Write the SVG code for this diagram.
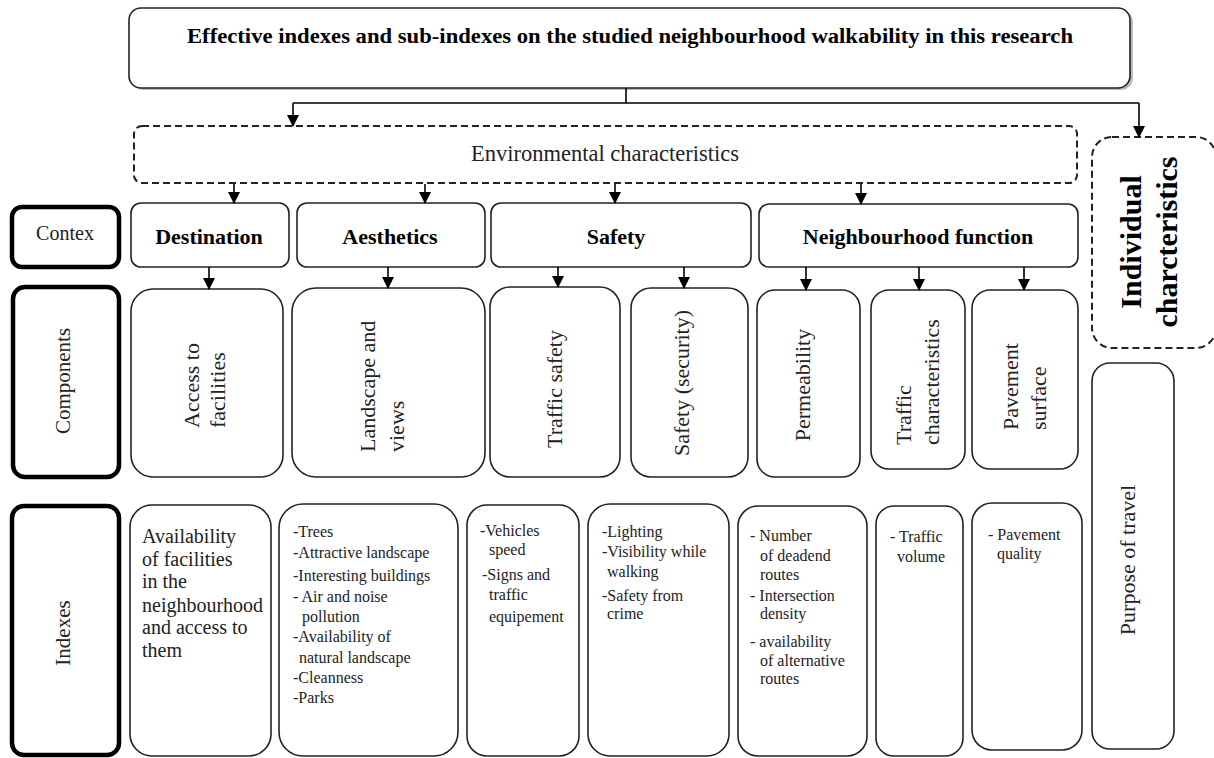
<svg xmlns="http://www.w3.org/2000/svg" width="1214" height="758" viewBox="0 0 1214 758">
<style>
.box{fill:#fff;stroke:#222;stroke-width:1.6}
.lbl{fill:#fff;stroke:#000;stroke-width:4.5}
.dash{fill:#fff;stroke:#222;stroke-width:2;stroke-dasharray:7 4}
.t{font-family:"Liberation Serif","Times New Roman",serif;fill:#222}
.b{font-weight:bold;fill:#000}
.ctx{font-size:22px;text-anchor:middle}
.rot{font-size:22px}
.idx{font-size:16px}
.con{stroke:#000;stroke-width:1.6;fill:none}
.arr{stroke:#000;stroke-width:1.6;fill:none;marker-end:url(#ah)}
</style>
<defs>
<marker id="ah" markerUnits="userSpaceOnUse" markerWidth="12" markerHeight="12" refX="11" refY="6" orient="auto">
<path d="M0,0 L12,6 L0,12 z" fill="#000"/>
</marker>
</defs>
<rect width="1214" height="758" fill="#fff"/>

<g id="title">
<rect x="132" y="10" width="1001" height="80" rx="12" fill="#bbb"/>
<rect class="box" x="129" y="8" width="1001" height="80" rx="12"/>
<text class="t b" x="630" y="43" font-size="20" text-anchor="middle" textLength="886" lengthAdjust="spacingAndGlyphs">Effective indexes and sub-indexes on the studied neighbourhood walkability in this research</text>
</g>

<g id="environmental">
<rect class="dash" x="134" y="126" width="943" height="57" rx="8"/>
<text class="t" x="605" y="161" font-size="22.5" text-anchor="middle" fill="#333">Environmental characteristics</text>
</g>

<g id="individual">
<rect class="dash" x="1092" y="137" width="124" height="211" rx="20"/>
<text class="t b" transform="translate(1141,242) rotate(-90)" font-size="30" text-anchor="middle">Individual</text>
<text class="t b" transform="translate(1177,242) rotate(-90)" font-size="30" text-anchor="middle">charcteristics</text>
</g>

<g id="purpose">
<rect class="box" x="1092" y="363" width="82" height="386" rx="18"/>
<text class="t rot" transform="translate(1135,560) rotate(-90)" text-anchor="middle">Purpose of travel</text>
</g>

<g id="label-contex">
<rect class="lbl" x="12" y="207" width="107" height="60" rx="10"/>
<text class="t" x="65" y="240" font-size="20" text-anchor="middle" fill="#333">Contex</text>
</g>
<g id="label-components">
<rect class="lbl" x="13" y="287" width="106" height="190" rx="12"/>
<text class="t" transform="translate(70,381) rotate(-90)" font-size="21" text-anchor="middle" fill="#333">Components</text>
</g>
<g id="label-indexes">
<rect class="lbl" x="12" y="506" width="107" height="249" rx="12"/>
<text class="t" transform="translate(70,633) rotate(-90)" font-size="21" text-anchor="middle" fill="#333">Indexes</text>
</g>

<g id="ctx-destination">
<rect class="box" x="131" y="203" width="158" height="64" rx="10"/>
<text class="t b ctx" x="209" y="244">Destination</text>
</g>
<g id="ctx-aesthetics">
<rect class="box" x="297" y="203" width="188" height="64" rx="10"/>
<text class="t b ctx" x="390" y="244">Aesthetics</text>
</g>
<g id="ctx-safety">
<rect class="box" x="491" y="203" width="260" height="64" rx="10"/>
<text class="t b ctx" x="616" y="244">Safety</text>
</g>
<g id="ctx-function">
<rect class="box" x="759" y="204" width="319" height="63" rx="10"/>
<text class="t b ctx" x="918" y="244">Neighbourhood function</text>
</g>

<g id="comp-access">
<rect class="box" x="131" y="289" width="152" height="188" rx="22"/>
<text class="t rot" transform="translate(199,428) rotate(-90)">Access to</text>
<text class="t rot" transform="translate(225,428) rotate(-90)">facilities</text>
</g>
<g id="comp-landscape">
<rect class="box" x="292" y="288" width="193" height="189" rx="24"/>
<text class="t rot" transform="translate(375,452) rotate(-90)">Landscape and</text>
<text class="t rot" transform="translate(404,452) rotate(-90)">views</text>
</g>
<g id="comp-traffic-safety">
<rect class="box" x="490" y="287" width="130" height="190" rx="20"/>
<text class="t rot" transform="translate(562,389) rotate(-90)" text-anchor="middle">Traffic safety</text>
</g>
<g id="comp-security">
<rect class="box" x="631" y="288" width="117" height="189" rx="20"/>
<text class="t rot" transform="translate(689,383) rotate(-90)" text-anchor="middle">Safety (security)</text>
</g>
<g id="comp-permeability">
<rect class="box" x="757" y="290" width="103" height="187" rx="18"/>
<text class="t rot" transform="translate(810,385) rotate(-90)" text-anchor="middle">Permeability</text>
</g>
<g id="comp-traffic-char">
<rect class="box" x="871" y="290" width="94" height="179" rx="18"/>
<text class="t rot" transform="translate(911,445) rotate(-90)">Traffic</text>
<text class="t rot" transform="translate(939,445) rotate(-90)">characteristics</text>
</g>
<g id="comp-pavement">
<rect class="box" x="972" y="290" width="106" height="179" rx="18"/>
<text class="t rot" transform="translate(1018,430) rotate(-90)">Pavement</text>
<text class="t rot" transform="translate(1046,430) rotate(-90)">surface</text>
</g>

<g id="idx-destination">
<rect class="box" x="130" y="505" width="141" height="251" rx="22"/>
<text class="t" font-size="20">
<tspan x="142" y="543">Availability</tspan>
<tspan x="142" y="566">of facilities</tspan>
<tspan x="142" y="588">in the</tspan>
<tspan x="142" y="612">neighbourhood</tspan>
<tspan x="142" y="634">and access to</tspan>
<tspan x="142" y="657">them</tspan>
</text>
</g>
<g id="idx-aesthetics">
<rect class="box" x="279" y="504" width="179" height="252" rx="24"/>
<text class="t idx" font-size="16.5">
<tspan x="293" y="537">-Trees</tspan>
<tspan x="293" y="558">-Attractive landscape</tspan>
<tspan x="293" y="581">-Interesting buildings</tspan>
<tspan x="293" y="602">- Air and noise</tspan>
<tspan x="302" y="622">pollution</tspan>
<tspan x="293" y="642">-Availability of</tspan>
<tspan x="299" y="663">natural landscape</tspan>
<tspan x="293" y="683">-Cleanness</tspan>
<tspan x="293" y="703">-Parks</tspan>
</text>
</g>
<g id="idx-traffic-safety">
<rect class="box" x="467" y="505" width="112" height="251" rx="20"/>
<text class="t idx">
<tspan x="480" y="536">-Vehicles</tspan>
<tspan x="489" y="555">speed</tspan>
<tspan x="482" y="580">-Signs and</tspan>
<tspan x="489" y="600">traffic</tspan>
<tspan x="489" y="622">equipement</tspan>
</text>
</g>
<g id="idx-security">
<rect class="box" x="588" y="504" width="141" height="252" rx="22"/>
<text class="t idx">
<tspan x="602" y="537">-Lighting</tspan>
<tspan x="602" y="557">-Visibility  while</tspan>
<tspan x="607" y="577">walking</tspan>
<tspan x="602" y="601">-Safety  from</tspan>
<tspan x="607" y="619">crime</tspan>
</text>
</g>
<g id="idx-permeability">
<rect class="box" x="738" y="506" width="129" height="250" rx="20"/>
<text class="t idx">
<tspan x="750" y="541">- Number</tspan>
<tspan x="760" y="561">of deadend</tspan>
<tspan x="760" y="580">routes</tspan>
<tspan x="750" y="601">- Intersection</tspan>
<tspan x="760" y="619">density</tspan>
<tspan x="750" y="647">- availability</tspan>
<tspan x="760" y="666">of alternative</tspan>
<tspan x="760" y="684">routes</tspan>
</text>
</g>
<g id="idx-traffic-volume">
<rect class="box" x="876" y="506" width="87" height="250" rx="18"/>
<text class="t idx">
<tspan x="890" y="542">- Traffic</tspan>
<tspan x="897" y="562">volume</tspan>
</text>
</g>
<g id="idx-pavement">
<rect class="box" x="972" y="503" width="110" height="247" rx="20"/>
<text class="t idx">
<tspan x="988" y="540">- Pavement</tspan>
<tspan x="997" y="559">quality</tspan>
</text>
</g>

<g id="connectors">
<path class="con" d="M626,88 V103 M293,103 H1139"/>
<path class="arr" d="M293,103 V126"/>
<path class="arr" d="M1139,103 V137"/>
<path class="arr" d="M234,184 V203"/>
<path class="arr" d="M425,184 V203"/>
<path class="arr" d="M615,184 V203"/>
<path class="arr" d="M861,184 V204"/>
<path class="arr" d="M209,267 V289"/>
<path class="arr" d="M388,267 V288"/>
<path class="arr" d="M558,267 V287"/>
<path class="arr" d="M684,267 V288"/>
<path class="arr" d="M806,267 V290"/>
<path class="arr" d="M919,267 V290"/>
<path class="arr" d="M1024,267 V290"/>
</g>
</svg>
